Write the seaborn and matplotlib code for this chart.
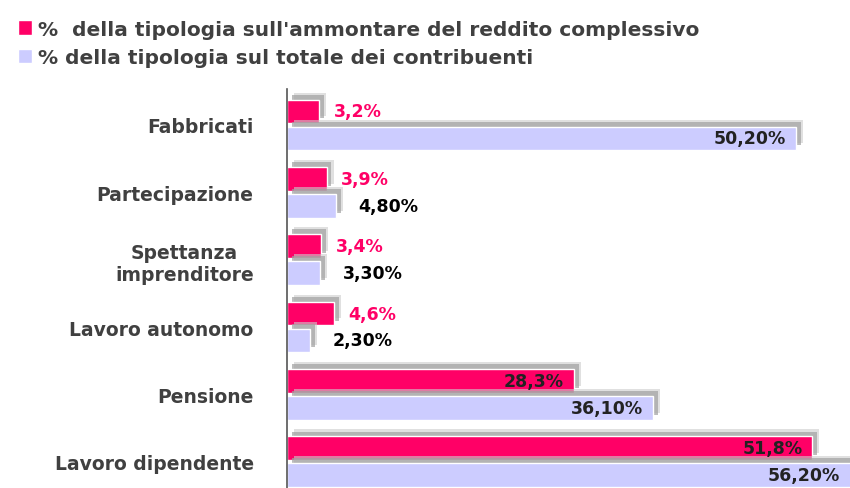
import pandas as pd
import numpy as np
import matplotlib.pyplot as plt
import matplotlib.patheffects as pe
import seaborn as sns

# dati
categorie = ['Fabbricati', 'Partecipazione', 'Spettanza\nimprenditore',
             'Lavoro autonomo', 'Pensione', 'Lavoro dipendente']
serie_reddito = "%  della tipologia sull'ammontare del reddito complessivo"
serie_contrib = '% della tipologia sul totale dei contribuenti'
perc_reddito = [3.2, 3.9, 3.4, 4.6, 28.3, 51.8]
perc_contrib = [50.2, 4.8, 3.3, 2.3, 36.1, 56.2]

df = pd.DataFrame({
    'categoria': categorie * 2,
    'valore': perc_reddito + perc_contrib,
    'serie': [serie_reddito] * 6 + [serie_contrib] * 6,
})

sns.set_style('white')
plt.rcParams['font.family'] = ['DejaVu Sans']
plt.rcParams['font.weight'] = 'bold'

rosa = '#FF0066'
lilla = '#CCCCFF'
grigio = '#404040'

fig = plt.figure(figsize=(8.5, 4.89), dpi=100)
ax = fig.add_axes([287 / 850, 0, 1 - 287 / 850, 399 / 489])

sns.barplot(data=df, y='categoria', x='valore', hue='serie', orient='h',
            palette=[rosa, lilla], gap=0.12, width=0.8, ax=ax, saturation=1)

ombra = [pe.SimplePatchShadow(offset=(5, 5), shadow_rgbFace='#cccccc', alpha=0.6),
         pe.SimplePatchShadow(offset=(3.5, 3.5), shadow_rgbFace='#a0a0a0', alpha=0.7),
         pe.Normal()]
for p in ax.patches:
    p.set_path_effects(ombra)

ax.set_xlim(0, 55.5)
ax.set_ylim(5.39, -0.534)

# etichette dei valori
for i, cont in enumerate(ax.containers):
    for p in cont:
        v = p.get_width()
        y = p.get_y() + p.get_height() / 2
        if i == 0:
            testo = f'{v:.1f}%'.replace('.', ',')
        else:
            testo = f'{v:.2f}%'.replace('.', ',')
        if v > 20:
            xx = min(v, 55.5) - 1.0
            ax.text(xx, y, testo, ha='right', va='center', fontsize=12.5,
                    fontweight='bold', color='#222222')
        else:
            off = 1.4 if i == 0 else 2.2
            ax.text(v + off, y, testo, ha='left', va='center', fontsize=12.5,
                    fontweight='bold', color=rosa if i == 0 else 'black')

ax.set_xlabel('')
ax.set_ylabel('')
ax.set_xticks([])
ax.tick_params(axis='y', length=0, pad=24)
for lab in ax.get_yticklabels():
    lab.set_fontsize(13.5)
    lab.set_fontweight('bold')
    lab.set_color(grigio)
    lab.set_multialignment('center')

for s in ['top', 'right', 'bottom']:
    ax.spines[s].set_visible(False)
ax.spines['left'].set_color('#555555')
ax.spines['left'].set_linewidth(1.2)

leg = ax.legend(loc='upper left', bbox_to_anchor=(0.0, 0.995), bbox_transform=fig.transFigure,
                frameon=False, handlelength=0.7, handleheight=0.7, handletextpad=0.3,
                labelspacing=0.45, prop={'size': 14.5, 'weight': 'bold'}, labelcolor=grigio)
for h in leg.legend_handles:
    h.set_path_effects([])

fig.savefig('out.png', dpi=100)
